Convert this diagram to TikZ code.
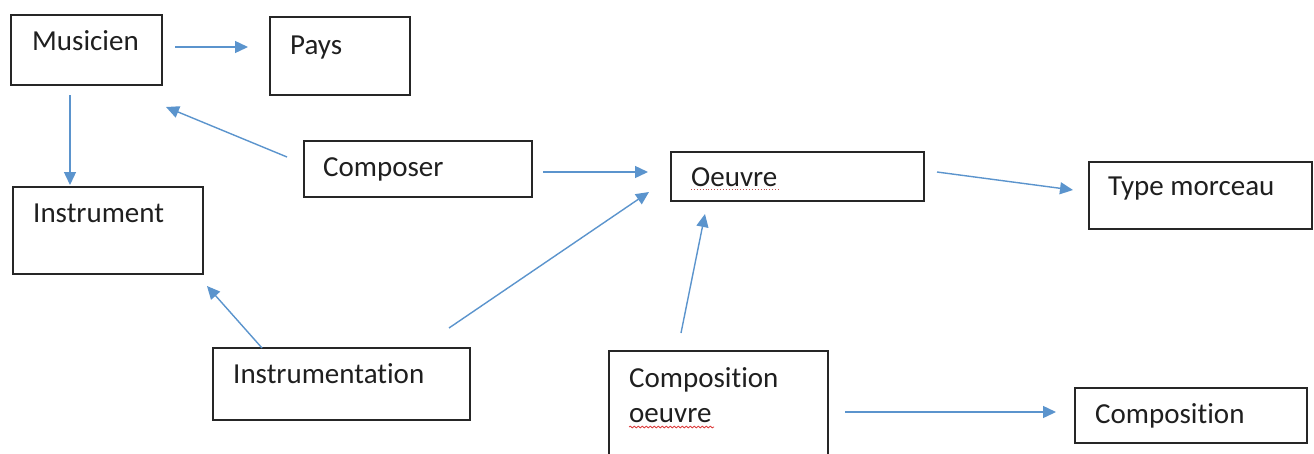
\documentclass[tikz,border=0pt]{standalone}
\usepackage{fontspec}
\setmainfont{Carlito}[Ligatures=NoCommon]
\usetikzlibrary{arrows.meta,decorations.pathmorphing}
\definecolor{arr}{RGB}{91,148,205}
\definecolor{squig}{RGB}{220,60,60}
\tikzset{
  boxnode/.style={draw=black!85, line width=1.5pt, rectangle, inner sep=0pt},
  lbl/.style={anchor=base west, inner sep=0pt, font=\fontsize{29}{34}\selectfont, text=black!88},
  conn/.style={draw=arr, line width=1.4pt, -{Triangle[length=13pt,width=12pt]}},
  spell/.style={draw=squig, line width=0.8pt, decorate, decoration={snake, amplitude=0.9pt, segment length=4pt}}
}
\begin{document}
\begin{tikzpicture}[x=1pt,y=-1pt]
\useasboundingbox (0,0) rectangle (1314,453);
\fill[white] (0,0) rectangle (1314,453);
% boxes
\node[boxnode, minimum width=151pt, minimum height=70pt] (mus) at (86.5,50) {};
\node[boxnode, minimum width=140pt, minimum height=78pt] (pays) at (340,56) {};
\node[boxnode, minimum width=228pt, minimum height=56pt] (comp) at (418,169) {};
\node[boxnode, minimum width=253pt, minimum height=49pt] (oeu) at (797.5,176.5) {};
\node[boxnode, minimum width=223pt, minimum height=67pt] (type) at (1200.5,195.5) {};
\node[boxnode, minimum width=190pt, minimum height=87pt] (inst) at (108,230.5) {};
\node[boxnode, minimum width=257pt, minimum height=72pt] (instr) at (341.5,384) {};
\node[boxnode, minimum width=219pt, minimum height=120pt] (co) at (718.5,411) {};
\node[boxnode, minimum width=232pt, minimum height=55pt] (cpn) at (1191,415.5) {};
% labels
\node[lbl] (tmus) at (32,50) {Musicien};
\node[lbl] (tpays) at (290,54) {Pays};
\node[lbl] (tcomp) at (323,176) {Composer};
\node[lbl] (toeu) at (691,186) {Oeuvre};
\node[lbl] (ttype) at (1108,195) {Type morceau};
\node[lbl] (tinst) at (33,222) {Instrument};
\node[lbl] (tinstr) at (233,383) {Instrumentation};
\node[lbl] (tco1) at (629,387) {Composition};
\node[lbl] (tco2) at (629,422) {oeuvre};
\node[lbl] (tcpn) at (1095,423) {Composition};
% spell-check marks
\draw[draw=squig!70!gray, line width=0.9pt, dotted] (toeu.base west)++(0,3.5) -- ++(88,0);
\draw[spell] (tco2.base west)++(0,5) -- ++(85,0);
% connector end points
\coordinate (a1) at (175,47);  \coordinate (b1) at (248,47);
\coordinate (a2) at (70,95);   \coordinate (b2) at (70,185);
\coordinate (a3) at (287,157); \coordinate (b3) at (166,107);
\coordinate (a4) at (543,172); \coordinate (b4) at (648,172);
\coordinate (a5) at (937,172); \coordinate (b5) at (1073,190);
\coordinate (a6) at (262,348); \coordinate (b6) at (207,286);
\coordinate (a7) at (449,328); \coordinate (b7) at (649,192);
\coordinate (a8) at (681,333); \coordinate (b8) at (705,214);
\coordinate (a9) at (845,412); \coordinate (b9) at (1056,412);
% connectors
\draw[conn] (a1) -- (b1);
\draw[conn] (a2) -- (b2);
\draw[conn] (a3) -- (b3);
\draw[conn] (a4) -- (b4);
\draw[conn] (a5) -- (b5);
\draw[conn] (a6) -- (b6);
\draw[conn] (a7) -- (b7);
\draw[conn] (a8) -- (b8);
\draw[conn] (a9) -- (b9);
\end{tikzpicture}
\end{document}
